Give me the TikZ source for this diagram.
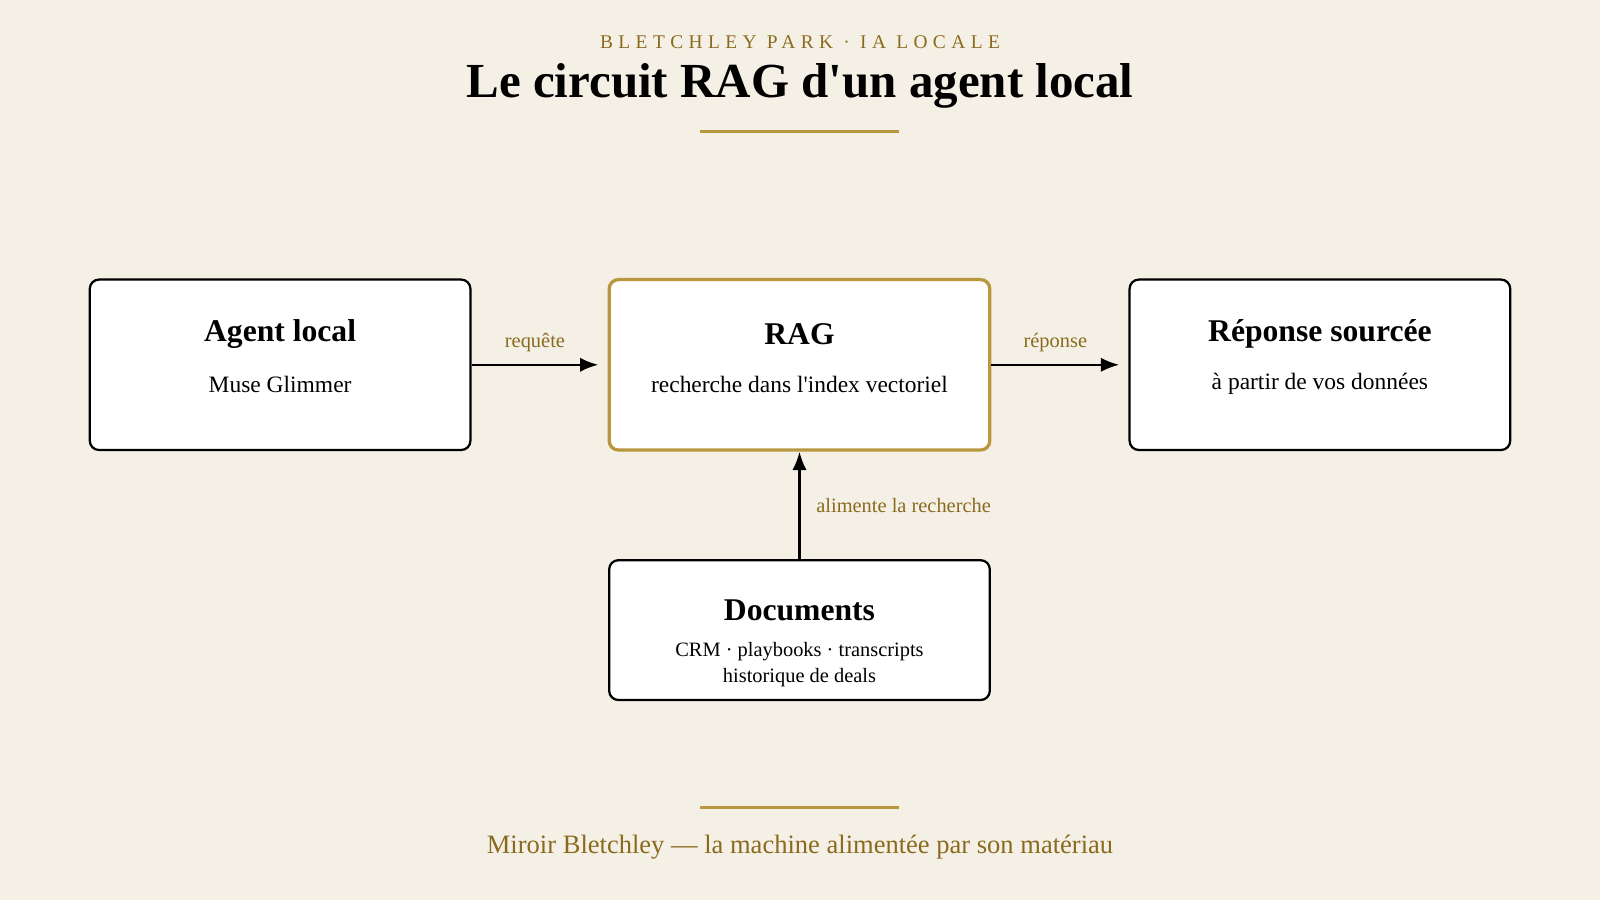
\documentclass[tikz,border=0pt]{standalone}
\usepackage{fontspec}
\setmainfont{Liberation Serif}
\usetikzlibrary{positioning, calc, arrows.meta}
\definecolor{paper}{HTML}{F5F0E6}
\definecolor{gold}{HTML}{B8973F}
\definecolor{bronze}{HTML}{8A6A1E}

\begin{document}
\begin{tikzpicture}[x=1pt, y=-1pt,
  box/.style={draw=black, fill=white, line width=2.2pt, rounded corners=9pt, minimum width=373pt, minimum height=167pt},
  boxtitle/.style={font=\fontsize{31}{34}\selectfont\bfseries},
  boxtext/.style={font=\fontsize{23}{26}\selectfont, align=center},
  flow/.style={-{Latex[length=18pt,width=14pt]}, line width=2.4pt},
  flowlabel/.style={text=bronze, font=\fontsize{20}{22}\selectfont}]

\fill[paper] (0,0) rectangle (1568,882);
\useasboundingbox (0,0) rectangle (1568,882);

% Header

\node[text=bronze, font=\fontsize{19}{22}\selectfont\addfontfeatures{LetterSpace=28}] (kicker) at (784,41) {BLETCHLEY PARK · IA LOCALE};
\node[font=\fontsize{48}{54}\selectfont\bfseries] (title) at (784,84) {Le circuit RAG d\textquotesingle un agent local};
\draw[gold, line width=3pt] (686,129) -- (881,129);

% Boxes

\node[box] (agent) at (274.5,357.5) {};
\node[box, draw=gold, line width=3.2pt] (rag) at (783.5,357.5) {};
\node[box] (answer) at (1293.5,357.5) {};
\node[box, minimum height=137pt] (docs) at (783.5,617.5) {};

\node[boxtitle] at ($(agent.center)+(0,-30)$) {Agent local};
\node[boxtext] at ($(agent.center)+(0,19)$) {Muse Glimmer};
\node[boxtitle] at ($(rag.center)+(0,-30)$) {RAG};
\node[boxtext] at ($(rag.center)+(0,19)$) {recherche dans l\textquotesingle index vectoriel};
\node[boxtitle] at ($(answer.center)+(0,-30)$) {Réponse sourcée};
\node[boxtext] at ($(answer.center)+(0,19)$) {à partir de vos données};
\node[boxtitle] at ($(docs.center)+(0,-19)$) {Documents};
\node[boxtext, font=\fontsize{20}{26}\selectfont] at ($(docs.center)+(0,34)$) {CRM · playbooks · transcripts\\historique de deals};

% Connectors

\draw[flow] (agent.east) -- ($(rag.west)+(-9,0)$) node[flowlabel, midway, above=8pt] {requête};
\draw[flow] (rag.east) -- ($(answer.west)+(-9,0)$) node[flowlabel, midway, above=8pt] {réponse};
\draw[flow] (docs.north) -- (rag.south) node[flowlabel, midway, right=12pt] {alimente la recherche};

% Footer

\draw[gold, line width=3pt] (686,791) -- (881,791);
\node[text=bronze, font=\fontsize{26}{28}\selectfont] (footer) at (784,830) {Miroir Bletchley — la machine alimentée par son matériau};
\end{tikzpicture}
\end{document}
